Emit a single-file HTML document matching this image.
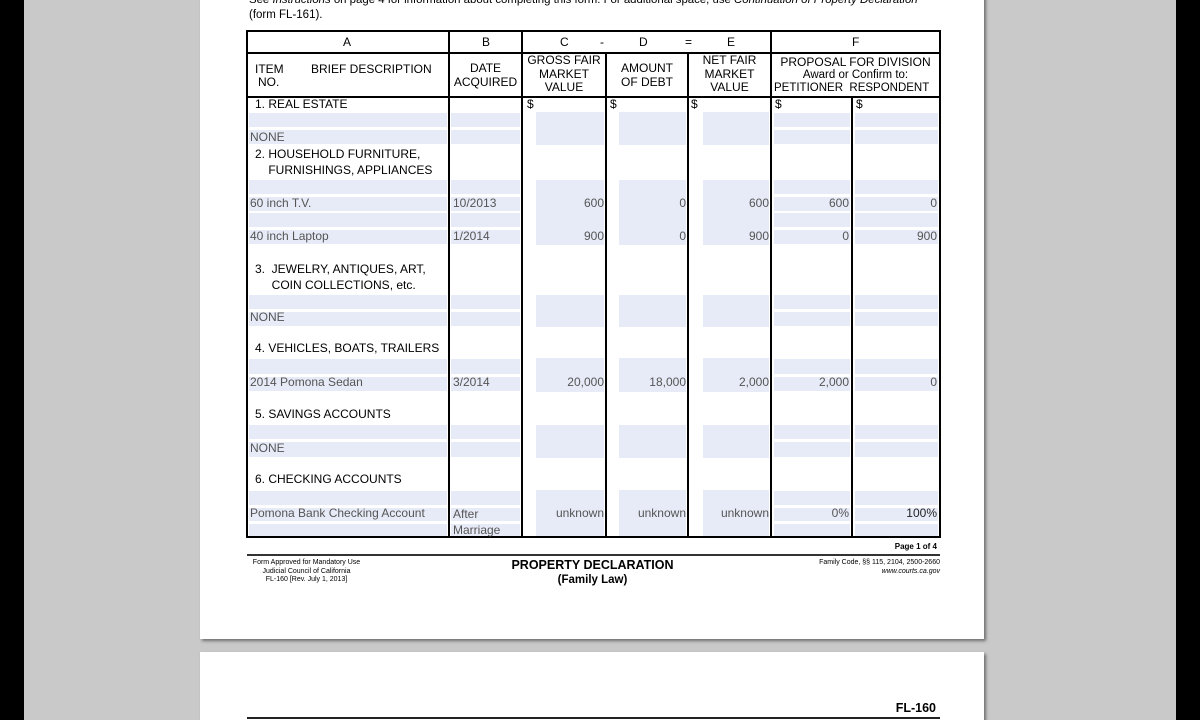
<!DOCTYPE html>
<html><head><meta charset="utf-8"><style>
*{margin:0;padding:0;box-sizing:border-box}
html,body{width:1200px;height:720px;overflow:hidden}
body{background:#c9c9c9;position:relative;font-family:"Liberation Sans",Arial,sans-serif;}
.a{position:absolute}
.pg{position:absolute;background:#fff;box-shadow:2px 2px 3px rgba(0,0,0,.45)}
.t{position:absolute;font-size:12px;line-height:14px;white-space:nowrap;color:#000}
.g{color:#555}
.r{text-align:right}
.c{text-align:center}
.bl{position:absolute;background:#e7ebf7}
.vl{position:absolute;background:#000;width:2px}
.hl{position:absolute;background:#000;height:2px}
</style></head><body>
<div class="a" style="left:0;top:0;width:24px;height:720px;background:#000"></div>
<div class="a" style="left:1176px;top:0;width:24px;height:720px;background:#000"></div>
<div class="pg" style="left:200px;top:-10px;width:784px;height:649px"></div>
<div class="pg" style="left:200px;top:652px;width:784px;height:68px"></div>

<div class="t" style="left:249px;top:-7px;font-size:11.4px">See <i>Instructions</i> on page 4 for information about completing this form. For additional space, use <i>Continuation of Property Declaration</i></div>
<div class="t" style="left:249px;top:8px;font-size:11.5px">(form FL-161).</div>

<div id="blues">
<div class="bl" style="left:249px;width:198px;top:113px;height:14px"></div><div class="bl" style="left:249px;width:198px;top:130px;height:14px"></div>
<div class="bl" style="left:249px;width:198px;top:180px;height:14px"></div><div class="bl" style="left:249px;width:198px;top:197px;height:14px"></div>
<div class="bl" style="left:249px;width:198px;top:213px;height:14px"></div><div class="bl" style="left:249px;width:198px;top:230px;height:14px"></div>
<div class="bl" style="left:249px;width:198px;top:295px;height:14px"></div><div class="bl" style="left:249px;width:198px;top:312px;height:14px"></div>
<div class="bl" style="left:249px;width:198px;top:359px;height:15px"></div><div class="bl" style="left:249px;width:198px;top:377px;height:14px"></div>
<div class="bl" style="left:249px;width:198px;top:425px;height:14px"></div><div class="bl" style="left:249px;width:198px;top:442px;height:15px"></div>
<div class="bl" style="left:249px;width:198px;top:491px;height:14px"></div><div class="bl" style="left:249px;width:198px;top:508px;height:13px"></div><div class="bl" style="left:249px;width:198px;top:524px;height:12px"></div>

<div class="bl" style="left:451px;width:69px;top:113px;height:14px"></div><div class="bl" style="left:451px;width:69px;top:130px;height:14px"></div>
<div class="bl" style="left:451px;width:69px;top:180px;height:14px"></div><div class="bl" style="left:451px;width:69px;top:197px;height:14px"></div>
<div class="bl" style="left:451px;width:69px;top:213px;height:14px"></div><div class="bl" style="left:451px;width:69px;top:230px;height:14px"></div>
<div class="bl" style="left:451px;width:69px;top:295px;height:14px"></div><div class="bl" style="left:451px;width:69px;top:312px;height:14px"></div>
<div class="bl" style="left:451px;width:69px;top:359px;height:15px"></div><div class="bl" style="left:451px;width:69px;top:377px;height:14px"></div>
<div class="bl" style="left:451px;width:69px;top:425px;height:14px"></div><div class="bl" style="left:451px;width:69px;top:442px;height:15px"></div>
<div class="bl" style="left:451px;width:69px;top:491px;height:14px"></div><div class="bl" style="left:451px;width:69px;top:508px;height:13px"></div><div class="bl" style="left:451px;width:69px;top:524px;height:12px"></div>

<div class="bl" style="left:774px;width:76px;top:113px;height:14px"></div><div class="bl" style="left:774px;width:76px;top:130px;height:14px"></div>
<div class="bl" style="left:774px;width:76px;top:180px;height:14px"></div><div class="bl" style="left:774px;width:76px;top:197px;height:14px"></div>
<div class="bl" style="left:774px;width:76px;top:213px;height:14px"></div><div class="bl" style="left:774px;width:76px;top:230px;height:14px"></div>
<div class="bl" style="left:774px;width:76px;top:295px;height:14px"></div><div class="bl" style="left:774px;width:76px;top:312px;height:14px"></div>
<div class="bl" style="left:774px;width:76px;top:359px;height:15px"></div><div class="bl" style="left:774px;width:76px;top:377px;height:14px"></div>
<div class="bl" style="left:774px;width:76px;top:425px;height:14px"></div><div class="bl" style="left:774px;width:76px;top:442px;height:15px"></div>
<div class="bl" style="left:774px;width:76px;top:491px;height:14px"></div><div class="bl" style="left:774px;width:76px;top:508px;height:13px"></div><div class="bl" style="left:774px;width:76px;top:524px;height:12px"></div>

<div class="bl" style="left:855px;width:83px;top:113px;height:14px"></div><div class="bl" style="left:855px;width:83px;top:130px;height:14px"></div>
<div class="bl" style="left:855px;width:83px;top:180px;height:14px"></div><div class="bl" style="left:855px;width:83px;top:197px;height:14px"></div>
<div class="bl" style="left:855px;width:83px;top:213px;height:14px"></div><div class="bl" style="left:855px;width:83px;top:230px;height:14px"></div>
<div class="bl" style="left:855px;width:83px;top:295px;height:14px"></div><div class="bl" style="left:855px;width:83px;top:312px;height:14px"></div>
<div class="bl" style="left:855px;width:83px;top:359px;height:15px"></div><div class="bl" style="left:855px;width:83px;top:377px;height:14px"></div>
<div class="bl" style="left:855px;width:83px;top:425px;height:14px"></div><div class="bl" style="left:855px;width:83px;top:442px;height:15px"></div>
<div class="bl" style="left:855px;width:83px;top:491px;height:14px"></div><div class="bl" style="left:855px;width:83px;top:508px;height:13px"></div><div class="bl" style="left:855px;width:83px;top:524px;height:12px"></div>

<div class="bl" style="left:536px;width:68px;top:112px;height:33px"></div>
<div class="bl" style="left:536px;width:68px;top:180px;height:65px"></div>
<div class="bl" style="left:536px;width:68px;top:295px;height:32px"></div>
<div class="bl" style="left:536px;width:68px;top:358px;height:34px"></div>
<div class="bl" style="left:536px;width:68px;top:425px;height:33px"></div>
<div class="bl" style="left:536px;width:68px;top:490px;height:47px"></div>
<div class="bl" style="left:619px;width:67px;top:112px;height:33px"></div>
<div class="bl" style="left:619px;width:67px;top:180px;height:65px"></div>
<div class="bl" style="left:619px;width:67px;top:295px;height:32px"></div>
<div class="bl" style="left:619px;width:67px;top:358px;height:34px"></div>
<div class="bl" style="left:619px;width:67px;top:425px;height:33px"></div>
<div class="bl" style="left:619px;width:67px;top:490px;height:47px"></div>
<div class="bl" style="left:703px;width:66px;top:112px;height:33px"></div>
<div class="bl" style="left:703px;width:66px;top:180px;height:65px"></div>
<div class="bl" style="left:703px;width:66px;top:295px;height:32px"></div>
<div class="bl" style="left:703px;width:66px;top:358px;height:34px"></div>
<div class="bl" style="left:703px;width:66px;top:425px;height:33px"></div>
<div class="bl" style="left:703px;width:66px;top:490px;height:47px"></div>
</div>

<div class="hl" style="left:246px;top:30px;width:695px"></div>
<div class="hl" style="left:246px;top:52px;width:695px"></div>
<div class="hl" style="left:246px;top:96px;width:695px"></div>
<div class="hl" style="left:246px;top:536px;width:695px"></div>
<div class="vl" style="left:246px;top:30px;height:508px"></div>
<div class="vl" style="left:939px;top:30px;height:508px"></div>
<div class="vl" style="left:448px;top:30px;height:508px"></div>
<div class="vl" style="left:521px;top:30px;height:508px"></div>
<div class="vl" style="left:770px;top:30px;height:508px"></div>
<div class="vl" style="left:605px;top:52px;height:486px"></div>
<div class="vl" style="left:687px;top:52px;height:486px"></div>
<div class="vl" style="left:851px;top:96px;height:442px"></div>

<div class="t" style="left:343px;top:35px">A</div>
<div class="t" style="left:482px;top:35px">B</div>
<div class="t" style="left:560px;top:35px">C</div>
<div class="t" style="left:600px;top:35px">-</div>
<div class="t" style="left:639px;top:35px">D</div>
<div class="t" style="left:685px;top:35px">=</div>
<div class="t" style="left:727px;top:35px">E</div>
<div class="t" style="left:852px;top:35px">F</div>

<div class="t" style="left:255px;top:62px">ITEM</div>
<div class="t" style="left:258px;top:75px">NO.</div>
<div class="t" style="left:311px;top:62px">BRIEF DESCRIPTION</div>
<div class="t c" style="left:449px;width:73px;top:61px">DATE<br>ACQUIRED</div>
<div class="t c" style="left:522px;width:84px;top:54px;line-height:13.5px">GROSS FAIR<br>MARKET<br>VALUE</div>
<div class="t c" style="left:606px;width:82px;top:61px">AMOUNT<br>OF DEBT</div>
<div class="t c" style="left:688px;width:83px;top:54px;line-height:13.5px">NET FAIR<br>MARKET<br>VALUE</div>
<div class="t c" style="left:771px;width:169px;top:55px">PROPOSAL FOR DIVISION</div>
<div class="t c" style="left:771px;width:169px;top:68px;font-size:11.5px">Award or Confirm to:</div>
<div class="t" style="left:774px;top:81px;font-size:11.5px">PETITIONER&nbsp;&nbsp;RESPONDENT</div>

<div class="t" style="left:527px;top:97px">$</div>
<div class="t" style="left:610px;top:97px">$</div>
<div class="t" style="left:691px;top:97px">$</div>
<div class="t" style="left:775px;top:97px">$</div>
<div class="t" style="left:856px;top:97px">$</div>

<div class="t" style="left:255px;top:97px">1. REAL ESTATE</div>
<div class="t" style="left:255px;top:146px;line-height:16px">2. HOUSEHOLD FURNITURE,<br>&nbsp;&nbsp;&nbsp;&nbsp;FURNISHINGS, APPLIANCES</div>
<div class="t" style="left:255px;top:261px;line-height:16px">3.&nbsp; JEWELRY, ANTIQUES, ART,<br>&nbsp;&nbsp;&nbsp;&nbsp;&nbsp;COIN COLLECTIONS, etc.</div>
<div class="t" style="left:255px;top:341px">4. VEHICLES, BOATS, TRAILERS</div>
<div class="t" style="left:255px;top:407px">5. SAVINGS ACCOUNTS</div>
<div class="t" style="left:255px;top:472px">6. CHECKING ACCOUNTS</div>

<div class="t g" style="left:250px;top:130px">NONE</div>
<div class="t g" style="left:250px;top:196px">60 inch T.V.</div>
<div class="t g" style="left:453px;top:196px">10/2013</div>
<div class="t g r" style="left:540px;width:64px;top:196px">600</div>
<div class="t g r" style="left:620px;width:66px;top:196px">0</div>
<div class="t g r" style="left:700px;width:69px;top:196px">600</div>
<div class="t g r" style="left:780px;width:69px;top:196px">600</div>
<div class="t g r" style="left:860px;width:77px;top:196px">0</div>

<div class="t g" style="left:250px;top:229px">40 inch Laptop</div>
<div class="t g" style="left:453px;top:229px">1/2014</div>
<div class="t g r" style="left:540px;width:64px;top:229px">900</div>
<div class="t g r" style="left:620px;width:66px;top:229px">0</div>
<div class="t g r" style="left:700px;width:69px;top:229px">900</div>
<div class="t g r" style="left:780px;width:69px;top:229px">0</div>
<div class="t g r" style="left:860px;width:77px;top:229px">900</div>

<div class="t g" style="left:250px;top:310px">NONE</div>

<div class="t g" style="left:250px;top:375px">2014 Pomona Sedan</div>
<div class="t g" style="left:453px;top:375px">3/2014</div>
<div class="t g r" style="left:530px;width:74px;top:375px">20,000</div>
<div class="t g r" style="left:610px;width:76px;top:375px">18,000</div>
<div class="t g r" style="left:700px;width:69px;top:375px">2,000</div>
<div class="t g r" style="left:780px;width:69px;top:375px">2,000</div>
<div class="t g r" style="left:860px;width:77px;top:375px">0</div>

<div class="t g" style="left:250px;top:441px">NONE</div>

<div class="t g" style="left:250px;top:506px">Pomona Bank Checking Account</div>
<div class="t g" style="left:453px;top:506px;line-height:16px">After<br>Marriage</div>
<div class="t g r" style="left:530px;width:74px;top:506px">unknown</div>
<div class="t g r" style="left:610px;width:76px;top:506px">unknown</div>
<div class="t g r" style="left:700px;width:69px;top:506px">unknown</div>
<div class="t g r" style="left:780px;width:69px;top:506px">0%</div>
<div class="t r" style="left:860px;width:77px;top:506px;color:#222">100%</div>

<div class="t r" style="left:837px;width:100px;top:542px;font-size:8px;line-height:10px;font-weight:bold">Page 1 of 4</div>
<div class="a" style="left:247px;top:554px;width:693px;height:2px;background:#333"></div>
<div class="t c" style="left:244px;width:125px;top:559px;font-size:7px;line-height:8.5px">Form Approved for Mandatory Use<br>Judicial Council of California<br>FL-160 [Rev. July 1, 2013]</div>
<div class="t c" style="left:470px;width:245px;top:558px;font-weight:bold;font-size:12.5px;line-height:14px">PROPERTY DECLARATION</div>
<div class="t c" style="left:470px;width:245px;top:573px;font-weight:bold;font-size:11.5px;line-height:14px">(Family Law)</div>
<div class="t r" style="left:760px;width:180px;top:559px;font-size:7px;line-height:8.5px">Family Code, §§ 115, 2104, 2500-2660<br><i>www.courts.ca.gov</i></div>

<div class="t r" style="left:836px;width:100px;top:701px;font-size:12.5px;font-weight:bold">FL-160</div>
<div class="a" style="left:247px;top:717px;width:693px;height:2px;background:#222"></div>
</body></html>
